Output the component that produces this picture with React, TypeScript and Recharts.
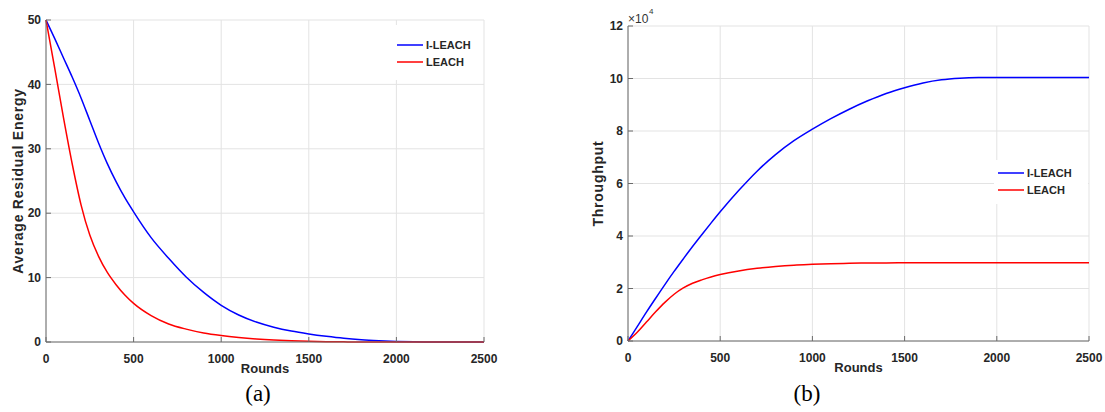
import { LineChart, Line, XAxis, YAxis, CartesianGrid, Label } from "recharts";

const FONT = '"Liberation Sans", Arial, sans-serif';

const ROUNDS = [
  0, 50, 100, 150, 200, 250, 300, 350, 400, 450, 500, 600, 700, 800, 900, 1000,
  1100, 1200, 1300, 1400, 1500, 1600, 1700, 1800, 1900, 2000, 2100, 2200, 2300, 2400, 2500,
];
const X_TICKS = [0, 500, 1000, 1500, 2000, 2500];

// (a) average residual energy
const ENERGY_ILEACH = [
  50, 47.1, 44.1, 41.1, 37.9, 34.4, 30.9, 27.7, 24.9, 22.4, 20.2, 16.2, 13, 10.1, 7.7, 5.7,
  4.2, 3.1, 2.3, 1.7, 1.25, 0.88, 0.57, 0.35, 0.2, 0.09, 0.03, 0, 0, 0, 0,
];
const ENERGY_LEACH = [
  50, 42.5, 34.8, 27.6, 21.3, 16.6, 13.3, 10.8, 8.9, 7.3, 6.0, 4.1, 2.8, 2.0, 1.4, 1.0,
  0.7, 0.47, 0.3, 0.18, 0.1, 0.05, 0.02, 0, 0, 0, 0, 0, 0, 0, 0,
];
const ENERGY_TICKS = [0, 10, 20, 30, 40, 50];

// (b) throughput
const THROUGHPUT_ILEACH = [
  0, 5500, 11000, 16300, 21500, 26500, 31300, 36000, 40500, 44900, 49200, 57300, 64700,
  71000, 76300, 80700, 84700, 88300, 91500, 94300, 96500, 98300, 99500, 100100, 100350,
  100400, 100400, 100400, 100400, 100400, 100400,
];
const THROUGHPUT_LEACH = [
  0, 3300, 7200, 11100, 14700, 17800, 20200, 22000, 23300, 24400, 25300, 26700, 27700,
  28400, 28900, 29200, 29450, 29600, 29700, 29750, 29800, 29800, 29800, 29800, 29800,
  29800, 29800, 29800, 29800, 29800, 29800,
];
const THROUGHPUT_TICKS = [0, 20000, 40000, 60000, 80000, 100000, 120000];

const SERIES = [
  { name: "I-LEACH", color: "#0000ff" },
  { name: "LEACH", color: "#ff0000" },
];

const energyRows = ROUNDS.map((r, i) => ({ r, ileach: ENERGY_ILEACH[i], leach: ENERGY_LEACH[i] }));
const throughputRows = ROUNDS.map((r, i) => ({ r, ileach: THROUGHPUT_ILEACH[i], leach: THROUGHPUT_LEACH[i] }));

const AXIS = "#6a6a6a";
const tickStyle = { fontSize: 12, fontWeight: 700, fill: "#262626", fontFamily: FONT };
const labelStyle = { fontSize: 14, fontWeight: 700, fill: "#262626", fontFamily: FONT, letterSpacing: 0.75 };
const blank = () => "";

function Legend({ left, top, padTop, padBottom, width }: any) {
  return (
    <div
      style={{
        position: "absolute",
        left,
        top,
        width,
        background: "#fff",
        paddingTop: padTop,
        paddingBottom: padBottom,
        paddingLeft: 4,
        fontFamily: FONT,
      }}
    >
      {SERIES.map((s) => (
        <div key={s.name} style={{ display: "flex", alignItems: "center", height: 17 }}>
          <svg width={26} height={4} style={{ display: "block" }}>
            <line x1={0} x2={26} y1={2} y2={2} stroke={s.color} strokeWidth={1.5} />
          </svg>
          <span style={{ marginLeft: 3, fontSize: 11, fontWeight: 700, color: "#262626" }}>{s.name}</span>
        </div>
      ))}
    </div>
  );
}

function Panel({ rows, ticks, max, yLabel, yLabelOffset, fmt, margin }: any) {
  return (
    <LineChart width={margin.w} height={380} data={rows} margin={margin.m}>
      <CartesianGrid stroke="#e3e3e3" strokeWidth={1} />
      <XAxis
        dataKey="r"
        type="number"
        domain={[0, 2500]}
        ticks={X_TICKS}
        interval={0}
        height={30}
        tickSize={-5}
        tickMargin={17}
        tick={tickStyle}
        stroke={AXIS}
      >
        <Label value="Rounds" position="insideBottom" offset={-1} style={{ ...labelStyle, fontSize: 13, letterSpacing: 0 }} />
      </XAxis>
      <XAxis
        xAxisId="top"
        orientation="top"
        dataKey="r"
        type="number"
        domain={[0, 2500]}
        ticks={X_TICKS}
        interval={0}
        height={0}
        tickSize={-5}
        tickFormatter={blank}
        stroke={AXIS}
      />
      <YAxis
        type="number"
        domain={[0, max]}
        ticks={ticks}
        interval={0}
        width={40}
        tickSize={-5}
        tickMargin={10}
        tick={tickStyle}
        tickFormatter={fmt}
        stroke={AXIS}
      >
        <Label
          value={yLabel}
          angle={-90}
          position="insideLeft"
          offset={yLabelOffset}
          style={{ ...labelStyle, textAnchor: "middle" }}
        />
      </YAxis>
      <YAxis
        yAxisId="right"
        orientation="right"
        type="number"
        domain={[0, max]}
        ticks={ticks}
        interval={0}
        width={0}
        tickSize={-5}
        tickFormatter={blank}
        stroke={AXIS}
      />
      <Line type="monotone" dataKey="ileach" stroke={SERIES[0].color} strokeWidth={1.5} dot={false} isAnimationActive={false} />
      <Line type="monotone" dataKey="leach" stroke={SERIES[1].color} strokeWidth={1.5} dot={false} isAnimationActive={false} />
    </LineChart>
  );
}

export default function App() {
  return (
    <div style={{ position: "relative", width: 1105, height: 412, background: "#fff", overflow: "hidden" }}>
      <style>{"body{margin:0}"}</style>
      <div style={{ position: "absolute", left: 0, top: 0 }}>
        <Panel
          rows={energyRows}
          ticks={ENERGY_TICKS}
          max={50}
          yLabel="Average Residual Energy"
          yLabelOffset={12}
          fmt={(v: number) => String(v)}
          margin={{ w: 500, m: { top: 20, right: 16, bottom: 8, left: 6 } }}
        />
      </div>
      <div style={{ position: "absolute", left: 560, top: 0 }}>
        <Panel
          rows={throughputRows}
          ticks={THROUGHPUT_TICKS}
          max={120000}
          yLabel="Throughput"
          yLabelOffset={10}
          fmt={(v: number) => String(v / 10000)}
          margin={{ w: 545, m: { top: 26, right: 16, bottom: 9, left: 28 } }}
        />
      </div>
      <Legend left={393} top={25} padTop={11} padBottom={10} width={84} />
      <Legend left={994} top={160} padTop={4} padBottom={6} width={90} />
      <div style={{ position: "absolute", left: 628, top: 13, fontFamily: FONT, fontSize: 12, lineHeight: "12px", color: "#333" }}>
        ×10
      </div>
      <div style={{ position: "absolute", left: 649, top: 8, fontFamily: FONT, fontSize: 8, lineHeight: "8px", color: "#333" }}>
        4
      </div>
      <div style={{ position: "absolute", left: 208, top: 382, width: 100, textAlign: "center", fontFamily: '"Liberation Serif", "Times New Roman", serif', fontSize: 23, lineHeight: "23px" }}>
        (a)
      </div>
      <div style={{ position: "absolute", left: 757, top: 382, width: 100, textAlign: "center", fontFamily: '"Liberation Serif", "Times New Roman", serif', fontSize: 23, lineHeight: "23px" }}>
        (b)
      </div>
    </div>
  );
}
